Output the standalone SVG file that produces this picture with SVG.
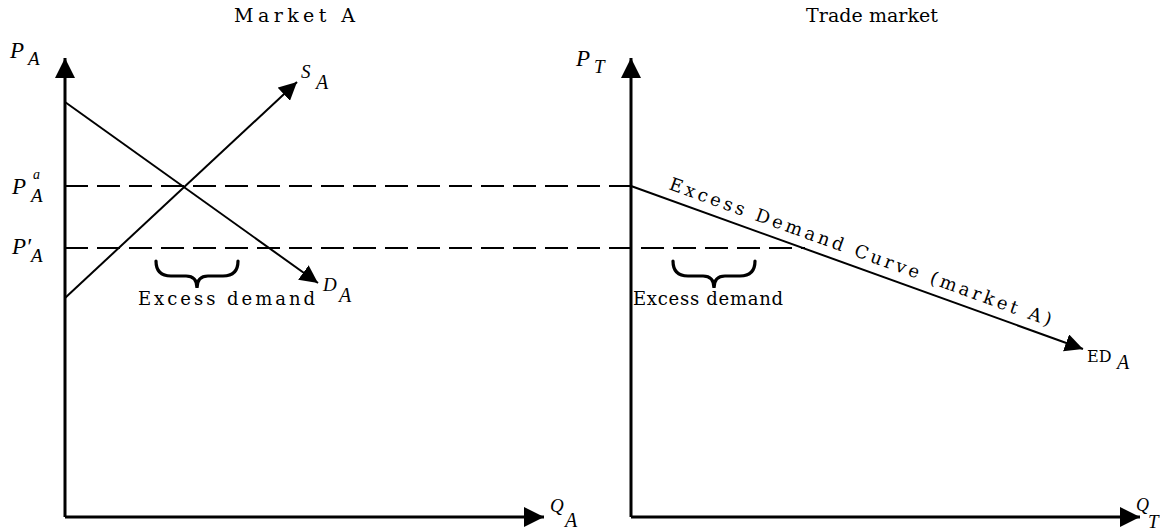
<svg xmlns="http://www.w3.org/2000/svg" width="1160" height="531" viewBox="0 0 1160 531">
<style>
text{font-family:"DejaVu Serif","Liberation Serif",serif;fill:#000}
.t{font-size:19px}
.m{font-family:"Liberation Serif","DejaVu Serif",serif;font-style:italic}
.axis{stroke:#000;stroke-width:3;fill:none}
.curve{stroke:#000;stroke-width:2;fill:none}
.dash{stroke:#000;stroke-width:2;fill:none;stroke-dasharray:23 9}
.brace{stroke:#000;stroke-width:3.2;fill:none;stroke-linecap:round}
</style>
<defs>
<marker id="ah" viewBox="0 0 10 10" refX="10" refY="5" markerWidth="18" markerHeight="18" markerUnits="userSpaceOnUse" orient="auto">
<path d="M0,0 L10,5 L0,10 Z" fill="#000"/>
</marker>
<marker id="axh" viewBox="0 0 10 10" refX="10" refY="5" markerWidth="20" markerHeight="20" markerUnits="userSpaceOnUse" orient="auto">
<path d="M0,0 L10,5 L0,10 Z" fill="#000"/>
</marker>
</defs>
<rect width="1160" height="531" fill="#fff"/>
<g id="titles">
<text class="t" x="234" y="22" textLength="121" lengthAdjust="spacing">Market A</text>
<text class="t" x="806" y="22" textLength="132" lengthAdjust="spacing">Trade market</text>
</g>
<g id="connectors">
<path class="dash" d="M65,186 H631"/>
<path class="dash" d="M65,248 H805"/>
<path class="axis" d="M65,517 V58" marker-end="url(#axh)"/>
<path class="axis" d="M65,517 H544" marker-end="url(#axh)"/>
<path class="axis" d="M631,517 V58" marker-end="url(#axh)"/>
<path class="axis" d="M631,517 H1140" marker-end="url(#axh)"/>
<path class="curve" d="M65,102 L318,283" marker-end="url(#ah)"/>
<path class="curve" d="M65,298 L297,82" marker-end="url(#ah)"/>
<path class="curve" d="M631,186 L1083,349" marker-end="url(#ah)"/>
</g>
<g id="axis-labels">
<text class="m" x="10" y="58" font-size="23">P</text>
<text class="m" x="28" y="65" font-size="19">A</text>
<text class="m" x="576" y="66" font-size="23">P</text>
<text class="m" x="594" y="73" font-size="19">T</text>
<text class="m" x="550" y="512" font-size="19">Q</text>
<text class="m" x="565" y="527" font-size="20">A</text>
<text class="m" x="1136" y="511" font-size="18">Q</text>
<text class="m" x="1148" y="528" font-size="19">T</text>
<text class="m" x="12" y="194" font-size="23">P</text>
<text class="m" x="33" y="179" font-size="14">a</text>
<text class="m" x="31" y="202" font-size="19">A</text>
<text class="m" x="12" y="254" font-size="23">P′</text>
<text class="m" x="31" y="262" font-size="19">A</text>
</g>
<g id="curve-labels">
<text class="m" x="301" y="78" font-size="19">S</text>
<text class="m" x="316" y="89" font-size="20">A</text>
<text class="m" x="323" y="291" font-size="19">D</text>
<text class="m" x="339" y="302" font-size="20">A</text>
<text x="1087" y="362" font-size="16">ED</text>
<text class="m" x="1117" y="369" font-size="20">A</text>
</g>
<g id="brace-left">
<path class="brace" d="M156,261 Q156,276 171,276 L186,276 Q197,276 197,288 Q197,276 208,276 L223,276 Q238,276 238,261"/>
<text x="138" y="305" font-size="18" textLength="177" lengthAdjust="spacing">Excess demand</text>
</g>
<g id="brace-right">
<path class="brace" d="M673,261 Q673,276 688,276 L703,276 Q714,276 714,288 Q714,276 725,276 L740,276 Q755,276 755,261"/>
<text x="633" y="305" font-size="18" textLength="150" lengthAdjust="spacing">Excess demand</text>
</g>
<g id="ed-label">
<text x="0" y="0" font-size="18" textLength="405" lengthAdjust="spacing" transform="translate(668,189) rotate(19.8)">Excess Demand Curve (market A)</text>
</g>
</svg>
